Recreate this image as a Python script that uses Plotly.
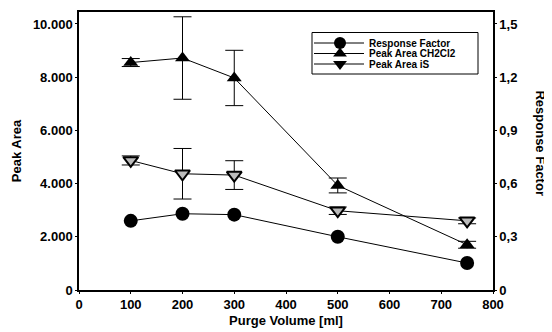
import plotly.graph_objects as go

purge_volume = [100, 200, 300, 500, 750]

response_factor = [0.39, 0.43, 0.425, 0.30, 0.152]
response_factor_err = [0.012, 0.01, 0.01, 0.008, 0.008]

area_ch2cl2 = [8550, 8720, 7970, 3930, 1700]
area_ch2cl2_err = [150, 1550, 1040, 280, 130]

area_is = [4870, 4370, 4320, 2980, 2600]
area_is_err = [170, 950, 540, 140, 110]

series_names = ["Response Factor", "Peak Area CH2Cl2", "Peak Area iS"]

x_ticks = [0, 100, 200, 300, 400, 500, 600, 700, 800]
y_ticks = [0, 2000, 4000, 6000, 8000, 10000]
y_ticktext = ["0", "2.000", "4.000", "6.000", "8.000", "10.000"]
y2_ticks = [0, 0.3, 0.6, 0.9, 1.2, 1.5]
y2_ticktext = ["0", "0,3", "0,6", "0,9", "1,2", "1,5"]

FONT = "Arial, Liberation Sans, sans-serif"
Y_TOP = 10450
Y2_TOP = 1.5 * Y_TOP / 10000

# the page body has an 8px margin, so the figure is 8px smaller than the window
W, H = 544, 324
# plot area in figure pixels
L, R, T, B = 71, 485, 4, 282

symbols = ["circle", "triangle-up", "triangle-down"]
fills = ["black", "black", "#bbbbbb"]
outlines = [0, 0, 2]

fig = go.Figure()

fig.add_trace(go.Scatter(
    x=purge_volume, y=response_factor, yaxis="y2", name=series_names[0],
    mode="lines+markers", showlegend=False,
    line=dict(color="black", width=1),
    marker=dict(symbol=symbols[0], size=14, color=fills[0]),
    error_y=dict(type="data", array=response_factor_err, color="black", thickness=1, width=5),
))
fig.add_trace(go.Scatter(
    x=purge_volume, y=area_ch2cl2, name=series_names[1],
    mode="lines+markers", showlegend=False,
    line=dict(color="black", width=1),
    marker=dict(symbol=symbols[1], size=13, color=fills[1]),
    error_y=dict(type="data", array=area_ch2cl2_err, color="black", thickness=1, width=9),
))
fig.add_trace(go.Scatter(
    x=purge_volume, y=area_is, name=series_names[2],
    mode="lines+markers", showlegend=False,
    line=dict(color="black", width=1),
    marker=dict(symbol=symbols[2], size=13, color=fills[2],
                line=dict(color="black", width=outlines[2])),
    error_y=dict(type="data", array=area_is_err, color="black", thickness=1, width=9),
))

# compact legend drawn in a pixel-like overlay coordinate system
leg_left, leg_right, leg_top, leg_bottom = 304, 470, 24.5, 66
row_y = [35, 45.5, 56]
line_x0, line_x1, mark_x, text_x = 306, 356, 332, 360

shapes = [dict(type="rect", xref="x2", yref="y3",
               x0=leg_left, x1=leg_right, y0=leg_top, y1=leg_bottom,
               line=dict(color="black", width=1), fillcolor="white", layer="below")]
annotations = []
for i, name in enumerate(series_names):
    shapes.append(dict(type="line", xref="x2", yref="y3",
                       x0=line_x0, x1=line_x1, y0=row_y[i], y1=row_y[i],
                       line=dict(color="black", width=1), layer="below"))
    annotations.append(dict(text=name, xref="x2", yref="y3", x=text_x, y=row_y[i],
                            xanchor="left", yanchor="middle", showarrow=False,
                            borderpad=0,
                            font=dict(family=FONT, size=10, color="black", weight="bold")))
    fig.add_trace(go.Scatter(
        x=[mark_x], y=[row_y[i]], xaxis="x2", yaxis="y3", mode="markers",
        showlegend=False, hoverinfo="skip", cliponaxis=False,
        marker=dict(symbol=symbols[i], size=12, color="black"),
    ))

axis_font = dict(family=FONT, size=13, color="black", weight="bold")

annotations.append(dict(
    text="Response Factor", textangle=90, showarrow=False,
    xref="paper", yref="paper", x=1.114, y=0.53,
    xanchor="center", yanchor="middle", font=axis_font,
))

fig.update_layout(
    width=W, height=H,
    margin=dict(l=L, r=W - R, t=T, b=H - B, autoexpand=False),
    paper_bgcolor="white", plot_bgcolor="white",
    font=axis_font,
    showlegend=False,
    xaxis=dict(
        range=[0, 800], tickvals=x_ticks, showgrid=False, zeroline=False,
        showline=True, linecolor="black", linewidth=1.5, mirror=True,
        ticks="outside", ticklen=2, tickcolor="black", automargin=False,
        tickfont=axis_font,
        title=dict(text="Purge Volume [ml]", font=axis_font, standoff=5),
    ),
    yaxis=dict(
        range=[0, Y_TOP], tickvals=y_ticks, ticktext=y_ticktext,
        showgrid=False, zeroline=False, automargin=False,
        showline=True, linecolor="black", linewidth=1.5,
        ticks="outside", ticklen=2, tickcolor="black",
        tickfont=axis_font,
        title=dict(text="Peak Area", font=axis_font, standoff=8),
    ),
    yaxis2=dict(
        range=[0, Y2_TOP], tickvals=y2_ticks, ticktext=y2_ticktext,
        overlaying="y", side="right", showgrid=False, zeroline=False,
        showline=True, linecolor="black", linewidth=1.5, automargin=False,
        ticks="outside", ticklen=2, tickcolor="black",
        tickfont=axis_font,
    ),
    xaxis2=dict(range=[L, R], overlaying="x", visible=False, fixedrange=True),
    yaxis3=dict(range=[B, T], overlaying="y", visible=False, fixedrange=True),
    shapes=shapes,
    annotations=annotations,
)

fig.write_html("out.html")
